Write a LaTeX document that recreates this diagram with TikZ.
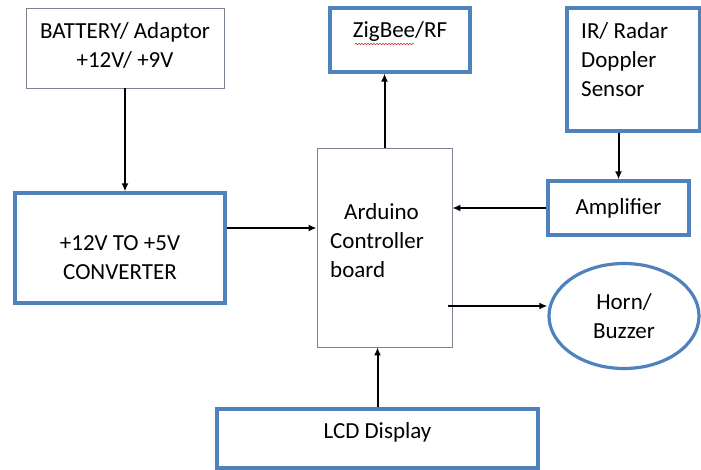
\documentclass[tikz,border=0pt]{standalone}
\usepackage{fontspec}
\setmainfont{Carlito}
\usepackage{tikz}
\usetikzlibrary{
	arrows.meta,
	calc,
	shapes.geometric,
	decorations.pathmorphing
}
\definecolor{BoxBlue}{RGB}{79,129,189}
\definecolor{ThinGray}{RGB}{120,132,145}
\definecolor{WavyRed}{RGB}{210,40,40}

\begin{document}
\begin{tikzpicture}[x=1pt, y=-1pt,
		thinbox/.style={draw=ThinGray, line width=0.9pt, rectangle, inner sep=0pt},
		thickbox/.style={draw=BoxBlue, line width=3.2pt, rectangle, inner sep=0pt},
		txt/.style={font=\fontsize{23}{29}\selectfont, inner sep=0pt},
		arr/.style={line width=2pt, -{Latex[length=8pt,width=7pt]}}]
		\useasboundingbox (0,0) rectangle (701,470);
		
		% 电源
		\node[thinbox, minimum width=198, minimum height=80] (bat) at (125,48) {};
		\node[txt, align=center] (battxt) at (125,46) {BATTERY/ Adaptor\\+12V/ +9V};
		
		% 转换器
		\node[thickbox, minimum width=210, minimum height=110] (conv) at (120,248) {};
		\node[txt, align=center] (convtxt) at (120,258) {+12V TO +5V\\CONVERTER};
		
		% 无线模块
		\node[thickbox, minimum width=140, minimum height=64] (zig) at (400,40) {};
		\node[txt] (zigtxt) at (400,31) {ZigBee/RF};
		\draw[WavyRed, line width=0.5pt, decorate,
			decoration={snake, amplitude=0.8pt, segment length=3pt}] (355,44) -- (414,44);
		
		% 传感器
		\node[thickbox, minimum width=133, minimum height=123] (sens) at (633.5,69.5) {};
		\node[txt, align=left, anchor=west] (senstxt) at (581,60) {IR/ Radar\\Doppler\\Sensor};
		
		% 控制板
		\node[thinbox, minimum width=135, minimum height=199] (ctrl) at (384.5,247.5) {};
		\node[txt, align=left, anchor=west] (ctrltxt) at (330,241) {\hspace*{14pt}Arduino\\Controller\\board};
		
		% 放大器
		\node[thickbox, minimum width=141, minimum height=54, txt] (amp) at (618.5,208) {Amplifier};
		
		% 蜂鸣器
		\node[draw=BoxBlue, line width=3.2pt, ellipse, minimum width=150, minimum height=105, inner sep=0pt,
			txt, align=center] (horn) at (624,316) {Horn/\\Buzzer};
		
		% 显示屏
		\node[thickbox, minimum width=321, minimum height=59] (lcd) at (377.5,438.5) {};
		\node[txt] (lcdtxt) at (377.5,432) {LCD Display};
		
		% 连线
		\coordinate (hornout) at (448,306);
		\draw[arr] (bat.south) -- (bat.south |- conv.north);
		\draw[arr] ([yshift=20pt]conv.east) -- ([yshift=20pt]conv.east -| ctrl.west);
		\draw[arr] (ctrl.north) -- (ctrl.north |- zig.south);
		\draw[arr] (amp.north |- sens.south) -- (amp.north);
		\draw[arr] (amp.west) -- (amp.west -| ctrl.east);
		\draw[arr] (hornout) -- (hornout -| horn.west);
		\draw[arr] (lcd.north) -- (lcd.north |- ctrl.south);
	\end{tikzpicture}
\end{document}
